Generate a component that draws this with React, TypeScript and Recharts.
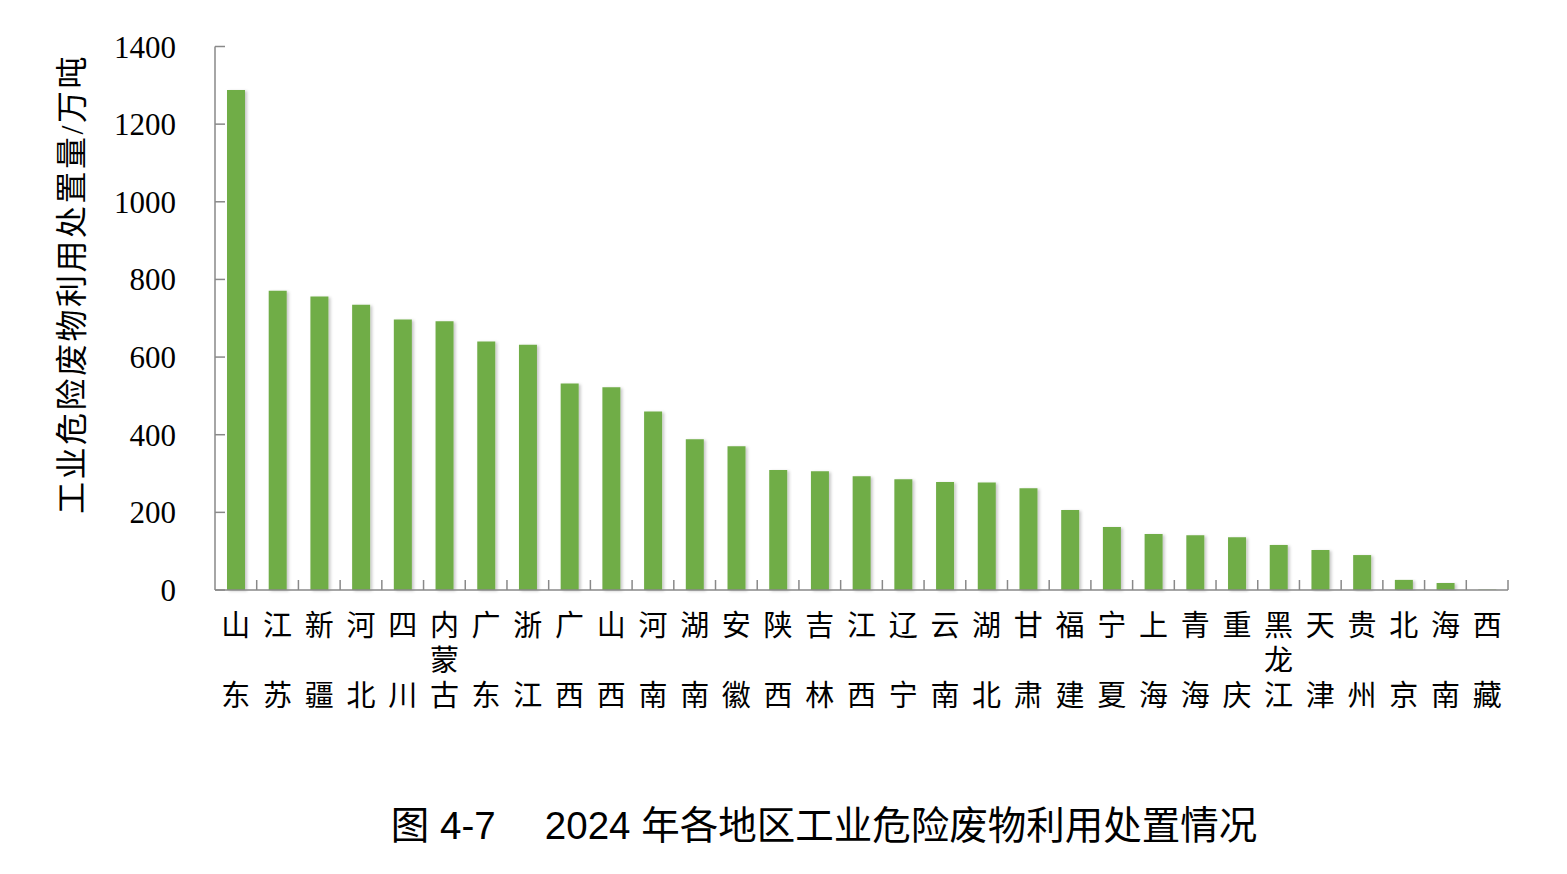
import React from 'react';
import { BarChart, Bar, XAxis, YAxis } from 'recharts';

// 2024 industrial hazardous waste utilisation & disposal by region (10k tonnes)
const provinces: string[] = [
  '山东', '江苏', '新疆', '河北', '四川', '内蒙古', '广东', '浙江', '广西', '山西',
  '河南', '湖南', '安徽', '陕西', '吉林', '江西', '辽宁', '云南', '湖北', '甘肃',
  '福建', '宁夏', '上海', '青海', '重庆', '黑龙江', '天津', '贵州', '北京', '海南', '西藏',
];
const amounts: number[] = [
  1288, 771, 756, 735, 697, 692, 640, 632, 532, 522,
  460, 388, 370, 309, 306, 293, 285, 278, 277, 262,
  206, 162, 144, 141, 136, 116, 103, 90, 26, 18, 1,
];
const yTicks: number[] = [0, 200, 400, 600, 800, 1000, 1200, 1400];

const yAxisTitle = '工业危险废物利用处置量/万吨';
const figureTitle = '图 4-7\u3000 2024 年各地区工业危险废物利用处置情况';

const data = provinces.map((name, i) => ({ name, value: amounts[i] }));

const W = 1551;
const H = 858;
const CHART_H = 740;
const MARGIN = { top: 38.5, right: 51, left: 0, bottom: 18 };
const Y_AXIS_W = 207;
const X_AXIS_H = 140;
const PLOT_W = W - MARGIN.left - MARGIN.right - Y_AXIS_W;
const BAND = PLOT_W / provinces.length;

const AXIS_COLOR = '#898989';
const SERIF = "'Liberation Serif', 'Times New Roman', 'Noto Sans CJK SC', serif";
const SANS = "'Liberation Sans', Arial, 'Noto Sans CJK SC', sans-serif";

// Category labels are stacked vertically, one character per row;
// two-character names leave the middle row empty.
const XTick = (props: any) => {
  const { x, y, payload } = props;
  const chars = Array.from(String(payload.value));
  const rows = chars.length === 2 ? [chars[0], '', chars[1]] : chars;
  const bx = x + BAND / 2;
  return (
    <g>
      <line x1={bx} x2={bx} y1={y} y2={y - 10} stroke={AXIS_COLOR} strokeWidth={1.5} />
      {rows.map((c, i) =>
        c ? (
          <text
            key={i}
            x={x}
            y={y + 35 * (i + 1) + 11}
            textAnchor="middle"
            fontSize={29}
            fontFamily={SERIF}
            fill="#000"
          >
            {c}
          </text>
        ) : null
      )}
    </g>
  );
};

const YTick = (props: any) => {
  const { x, y, payload } = props;
  return (
    <g>
      <line x1={x} x2={x + 10} y1={y} y2={y} stroke={AXIS_COLOR} strokeWidth={1.5} />
      <text x={x - 39} y={y + 11} textAnchor="end" fontSize={31} fontFamily={SERIF} fill="#000">
        {payload.value}
      </text>
    </g>
  );
};

export default function App() {
  const labelCx = 63;
  const labelCy = 276;
  return (
    <div style={{ position: 'relative', width: W, height: H, background: '#fff' }}>
      <svg
        width={W}
        height={H}
        style={{ position: 'absolute', left: 0, top: 0, pointerEvents: 'none' }}
      >
        <defs>
          <filter id="barShadow" x="-30%" y="-5%" width="160%" height="110%">
            <feDropShadow dx="2" dy="1" stdDeviation="1.6" floodColor="#000" floodOpacity="0.22" />
          </filter>
        </defs>
        <text
          x={labelCx}
          y={labelCy + 12}
          transform={`rotate(-90, ${labelCx}, ${labelCy})`}
          textAnchor="middle"
          fontSize={32}
          letterSpacing={2.5}
          fontFamily={SERIF}
          fill="#000"
        >
          {yAxisTitle}
        </text>
        <text
          x={816}
          y={831}
          textAnchor="middle"
          fontSize={38.5}
          fontFamily={SANS}
          fill="#000"
        >
          {figureTitle}
        </text>
      </svg>
      <BarChart width={W} height={CHART_H} data={data} margin={MARGIN} barSize={18}>
        <XAxis
          dataKey="name"
          interval={0}
          height={X_AXIS_H}
          tickSize={0}
          tickMargin={0}
          tickLine={false}
          axisLine={{ stroke: AXIS_COLOR, strokeWidth: 1.5 }}
          tick={<XTick />}
        />
        <YAxis
          domain={[0, 1400]}
          ticks={yTicks}
          interval={0}
          width={Y_AXIS_W}
          tickSize={0}
          tickMargin={0}
          tickLine={false}
          axisLine={{ stroke: AXIS_COLOR, strokeWidth: 1.5 }}
          tick={<YTick />}
        />
        <Bar dataKey="value" fill="#70ad47" isAnimationActive={false} style={{ filter: 'url(#barShadow)' }} />
      </BarChart>
    </div>
  );
}
